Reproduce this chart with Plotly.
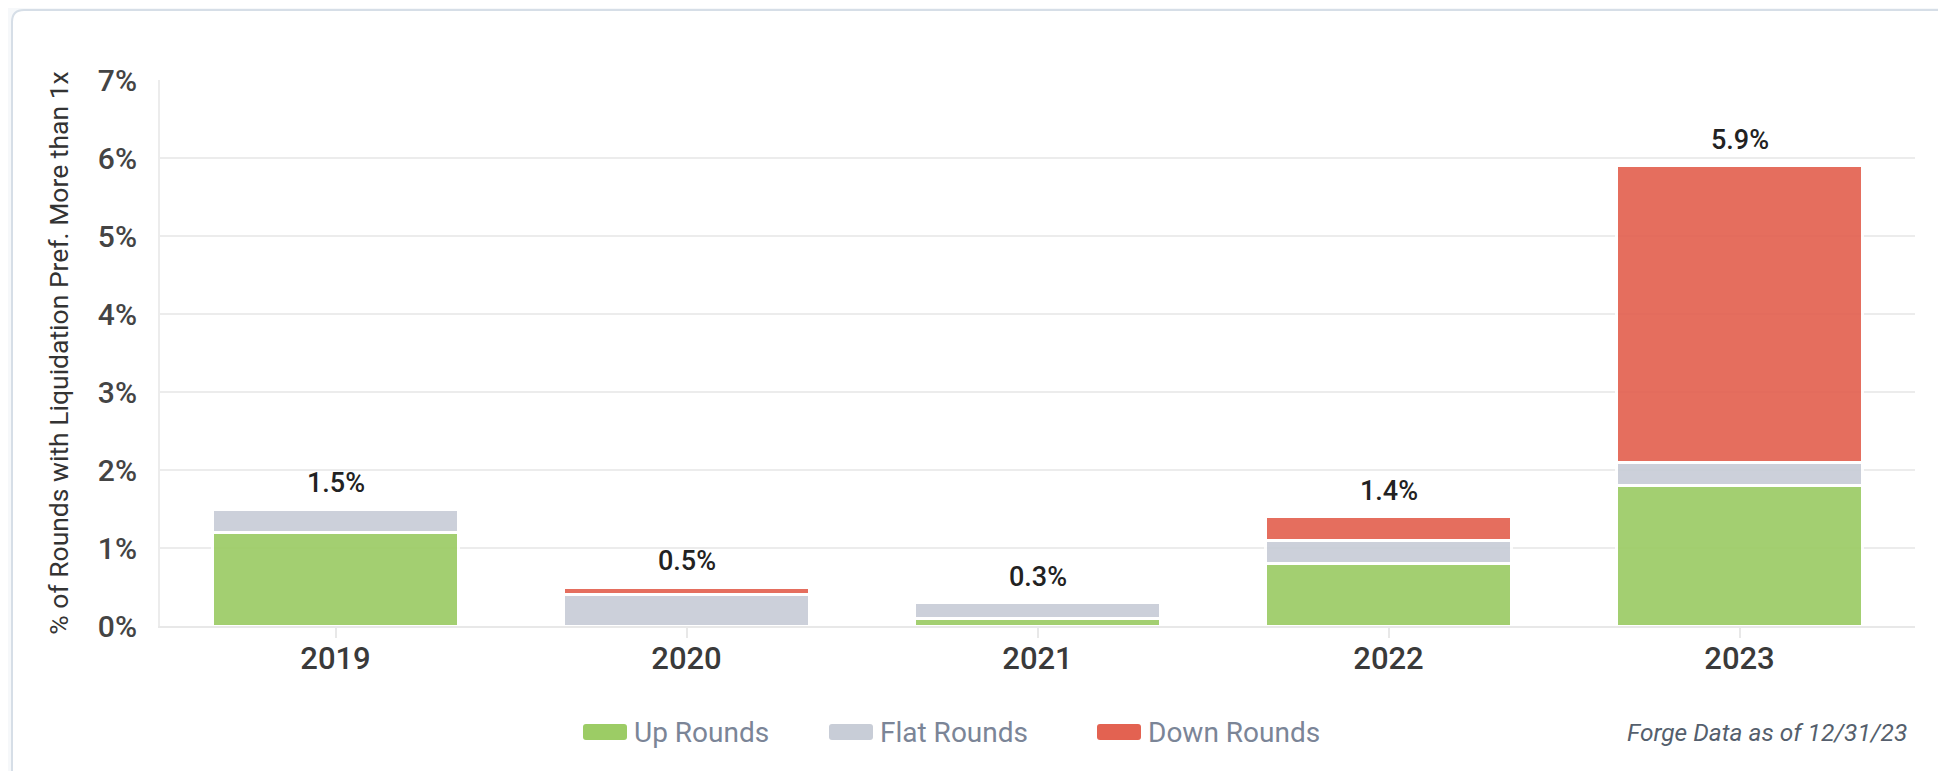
import plotly.graph_objects as go

years = ['2019', '2020', '2021', '2022', '2023']
up_rounds = [1.2, None, 0.1, 0.8, 1.8]
flat_rounds = [0.3, 0.4, 0.2, 0.3, 0.3]
down_rounds = [None, 0.1, None, 0.3, 3.8]
series_names = ['Up Rounds', 'Flat Rounds', 'Down Rounds']
series_colors = ['#9ccc65', '#c8cdd7', '#e36251']
footnote = 'Forge Data as of 12/31/23'
y_title = '% of Rounds with Liquidation Pref. More than 1x'

totals = [round(sum(v or 0 for v in vals), 1)
          for vals in zip(up_rounds, flat_rounds, down_rounds)]

OFF = 8  # page body margin
W, H = 1946 - OFF, 771 - OFF
L, R, T, B = 160 - OFF, 1915 - OFF, 80 - OFF, 626 - OFF  # plot area in figure pixels


def px(x):
    # x in screenshot pixels -> paper
    return (x - OFF - L) / (R - L)


def py(y):
    return (B - (y - OFF)) / (B - T)


fig = go.Figure()
for name, vals, color in zip(series_names, [up_rounds, flat_rounds, down_rounds], series_colors):
    fig.add_trace(go.Bar(
        x=years, y=vals, name=name,
        marker=dict(color=color, line=dict(color='white', width=3)),
        opacity=0.92, showlegend=False, hoverinfo='x+y+name'))

# totals above each bar (category index positions)
for i, t in enumerate(totals):
    fig.add_annotation(x=i, y=t, xref='x', yref='y', text=f'{t:.1f}%', showarrow=False,
                       yanchor='bottom', yshift=8,
                       font=dict(family='Roboto', size=27, color='#222222', weight=500))

# card background
r = 12
card = (f'M {px(12)},{py(10 + r)} Q {px(12)},{py(10)} {px(12 + r)},{py(10)} '
        f'L {px(1990)},{py(10)} L {px(1990)},{py(820)} L {px(12)},{py(820)} Z')
shapes = [dict(type='path', path=card, xref='paper', yref='paper', layer='below',
               fillcolor='white', line=dict(color='#d6dee7', width=2))]

# legend (wide rounded swatches like the original)
legend_swatch_x = [583, 829, 1097]
ly = 732
for name, color, sx in zip(series_names, series_colors, legend_swatch_x):
    x0, x1, y0, y1, rr = sx, sx + 44, ly - 8, ly + 8, 3
    p = (f'M {px(x0 + rr)},{py(y0)} L {px(x1 - rr)},{py(y0)} Q {px(x1)},{py(y0)} {px(x1)},{py(y0 + rr)} '
         f'L {px(x1)},{py(y1 - rr)} Q {px(x1)},{py(y1)} {px(x1 - rr)},{py(y1)} '
         f'L {px(x0 + rr)},{py(y1)} Q {px(x0)},{py(y1)} {px(x0)},{py(y1 - rr)} '
         f'L {px(x0)},{py(y0 + rr)} Q {px(x0)},{py(y0)} {px(x0 + rr)},{py(y0)} Z')
    shapes.append(dict(type='path', path=p, xref='paper', yref='paper',
                       fillcolor=color, line=dict(width=0)))
    fig.add_annotation(x=px(sx + 49), y=py(ly), xref='paper', yref='paper',
                       xanchor='left', yanchor='middle', showarrow=False, text=name,
                       font=dict(family='Roboto', size=28, color='#7b8597'))

fig.add_annotation(x=px(1909), y=py(ly), xref='paper', yref='paper',
                   xanchor='right', yanchor='middle', showarrow=False, text=footnote,
                   font=dict(family='Roboto', size=24.5, color='#555f6d', style='italic'))

fig.update_layout(
    width=W, height=H,
    margin=dict(l=L, r=W - R, t=T, b=H - B, autoexpand=False),
    barmode='stack', bargap=0.3,
    paper_bgcolor='#f6f8fa', plot_bgcolor='rgba(0,0,0,0)',
    font=dict(family='Roboto', color='#333333'),
    shapes=shapes,
    xaxis=dict(type='category', range=[-0.5, 4.5], showgrid=False, showline=True,
               linecolor='#e8e8e8', linewidth=2,
               ticks='outside', ticklen=10, tickwidth=2, tickcolor='#e8e8e8',
               ticklabelstandoff=-6,
               tickfont=dict(size=31, color='#3a3a3a', weight=500), fixedrange=True),
    yaxis=dict(range=[0, 7], dtick=1, ticksuffix='%', showgrid=True, gridcolor='#ececec', gridwidth=2,
               showline=True, linecolor='#ececec', linewidth=2, zeroline=False,
               tickfont=dict(size=30, color='#444444', weight=500), ticklabelstandoff=15,
               title=dict(text=y_title, font=dict(size=26.5, color='#333333'), standoff=22)),
)

fig.write_html('out.html')
